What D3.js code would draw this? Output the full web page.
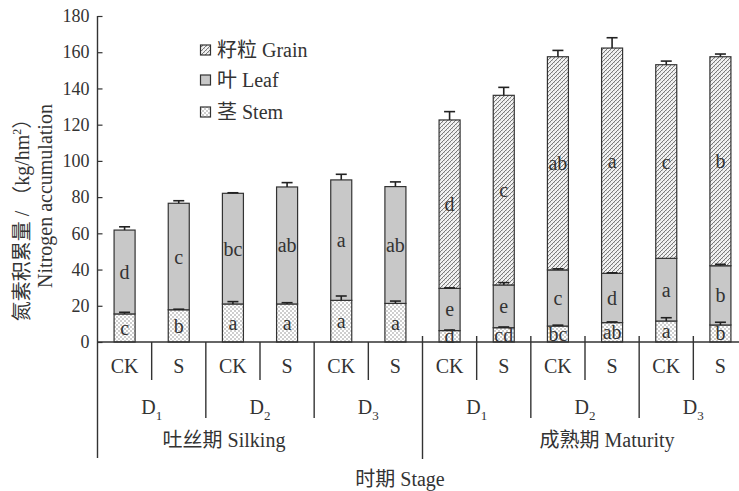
<!DOCTYPE html>
<html>
<head>
<meta charset="utf-8">
<script src="https://cdn.jsdelivr.net/npm/d3@7"></script>
<style>
  body { margin: 0; background: #fff; }
  text { font-family: "Liberation Serif", "Noto Sans CJK SC", serif; fill: #333; }
</style>
</head>
<body>
<div id="chart"></div>
<script>
// 分组：时期 / 密度 / 处理
const stages = ['吐丝期 Silking', '成熟期 Maturity'];
const levels = ['1', '2', '3'];
const treatments = ['CK', 'S'];

// 各器官氮素积累量 (kg/hm²)，顺序：Silking D1 CK,S D2 CK,S D3 CK,S, Maturity ...
const stem  = [15.5, 17.8, 21.0, 21.0, 23.0, 21.3, 6.3, 7.9, 8.8, 10.7, 11.6, 9.4];
const leaf  = [46.3, 58.8, 61.1, 64.6, 66.5, 64.5, 23.3, 23.6, 31.0, 27.2, 34.6, 32.7];
const grain = [0, 0, 0, 0, 0, 0, 93.0, 104.7, 117.7, 124.4, 106.9, 115.4];

const stemErr  = [0.9, 0.3, 1.3, 0.7, 2.4, 1.3, 0.3, 0.4, 0.5, 0.4, 1.8, 1.5];
const leafErr  = [1.8, 1.4, 0.3, 2.4, 3.1, 2.6, 0.3, 1.3, 0.6, 0.3, 0, 0.8];
const grainErr = [0, 0, 0, 0, 0, 0, 4.6, 4.4, 3.5, 5.7, 2.0, 1.5];

const stemSig  = ['c', 'b', 'a', 'a', 'a', 'a', 'd', 'cd', 'bc', 'ab', 'a', 'b'];
const leafSig  = ['d', 'c', 'bc', 'ab', 'a', 'ab', 'e', 'e', 'c', 'd', 'a', 'b'];
const grainSig = ['', '', '', '', '', '', 'd', 'c', 'ab', 'a', 'c', 'b'];

const yTicks = d3.range(0, 181, 20);

const width = 739, height = 491;
const xStart = 97.5, xEnd = 747.5, yTop = 16, yBase = 342;

const cats = [];
stages.forEach((s, si) => levels.forEach((l, li) => treatments.forEach(t => {
  cats.push({ stage: si, level: li, trt: t });
})));

const table = cats.map((c, i) => ({ i, stem: stem[i], leaf: leaf[i], grain: grain[i] }));
const keys = ['stem', 'leaf', 'grain'];
const errs = { stem: stemErr, leaf: leafErr, grain: grainErr };
const sigs = { stem: stemSig, leaf: leafSig, grain: grainSig };

const x = d3.scaleBand()
  .domain(d3.range(cats.length))
  .range([xStart, xEnd])
  .paddingInner(0.612)
  .paddingOuter(0.306);

const y = d3.scaleLinear().domain([0, 180]).range([yBase, yTop]);

const svg = d3.select('#chart').append('svg')
  .attr('width', width)
  .attr('height', height);

// 填充图案
const defs = svg.append('defs');
const pStem = defs.append('pattern').attr('id', 'p-stem')
  .attr('patternUnits', 'userSpaceOnUse').attr('width', 4).attr('height', 4);
pStem.append('rect').attr('width', 4).attr('height', 4).attr('fill', '#fff');
pStem.append('circle').attr('cx', 1).attr('cy', 1).attr('r', 0.7).attr('fill', '#777');
pStem.append('circle').attr('cx', 3).attr('cy', 3).attr('r', 0.7).attr('fill', '#777');

const pGrain = defs.append('pattern').attr('id', 'p-grain')
  .attr('patternUnits', 'userSpaceOnUse').attr('width', 4).attr('height', 4);
pGrain.append('rect').attr('width', 4).attr('height', 4).attr('fill', '#f2f2f2');
pGrain.append('path').attr('d', 'M0,4L4,0M-1,1L1,-1M3,5L5,3')
  .attr('stroke', '#666').attr('stroke-width', 0.85);
pGrain.append('path').attr('d', 'M0,0L1,1M2,2L3,3')
  .attr('stroke', '#aaa').attr('stroke-width', 0.5);

const fills = { stem: 'url(#p-stem)', leaf: '#c8c8c8', grain: 'url(#p-grain)' };

const series = d3.stack().keys(keys)(table);

// 柱子
const bars = svg.append('g');
series.forEach(s => {
  bars.append('g').selectAll('rect')
    .data(s.filter(d => d[1] > d[0]))
    .enter().append('rect')
    .attr('x', d => x(d.data.i))
    .attr('width', x.bandwidth())
    .attr('y', d => y(d[1]))
    .attr('height', d => y(d[0]) - y(d[1]))
    .attr('fill', fills[s.key])
    .attr('stroke', '#333')
    .attr('stroke-width', 1.2);
});

// 误差线
const eb = svg.append('g').attr('stroke', '#222').attr('stroke-width', 1.6);
series.forEach(s => {
  s.forEach(d => {
    const e = errs[s.key][d.data.i];
    if (!(d[1] > d[0]) || !e) return;
    const cx = x(d.data.i) + x.bandwidth() / 2;
    eb.append('line').attr('x1', cx).attr('x2', cx)
      .attr('y1', y(d[1])).attr('y2', y(d[1] + e));
    eb.append('line').attr('x1', cx - 5.5).attr('x2', cx + 5.5)
      .attr('y1', y(d[1] + e)).attr('y2', y(d[1] + e));
  });
});

// 显著性字母
const sg = svg.append('g').attr('text-anchor', 'middle').style('font-size', '20px');
series.forEach(s => {
  s.forEach(d => {
    const t = sigs[s.key][d.data.i];
    if (!t) return;
    sg.append('text')
      .attr('x', x(d.data.i) + x.bandwidth() / 2)
      .attr('y', y((d[0] + d[1]) / 2))
      .attr('dy', '0.35em')
      .attr('fill', '#444')
      .text(t);
  });
});

// y 轴
const yAxis = svg.append('g')
  .attr('transform', `translate(${xStart},0)`)
  .call(d3.axisLeft(y).tickValues(yTicks).tickSizeInner(-5).tickSizeOuter(0).tickPadding(8));
yAxis.select('.domain').remove();
yAxis.selectAll('line').attr('stroke', '#333').attr('stroke-width', 1.2);
yAxis.selectAll('text').style('font-size', '18px').attr('fill', '#333')
  .style('font-family', '"Liberation Serif", serif');

const lines = svg.append('g').attr('stroke', '#333').attr('stroke-width', 1.4);
lines.append('line').attr('x1', xStart).attr('x2', xStart).attr('y1', y(180)).attr('y2', 458);
lines.append('line').attr('x1', xStart).attr('x2', width).attr('y1', yBase).attr('y2', yBase);

// 分组分隔线
const step = x.step();
const edge = i => x(i) - step * x.paddingInner() / 2;
for (let i = 1; i < cats.length; i++) {
  const top = cats[i].stage === 1 ? yBase - 6 : yBase;
  let bottom = 380;
  if (cats[i].stage !== cats[i - 1].stage) bottom = 459;
  else if (cats[i].level !== cats[i - 1].level) bottom = 418;
  lines.append('line').attr('x1', edge(i)).attr('x2', edge(i)).attr('y1', top).attr('y2', bottom);
}

// x 轴文字
const xl = svg.append('g').attr('text-anchor', 'middle').style('font-size', '20px');
cats.forEach((c, i) => {
  xl.append('text')
    .attr('x', x(i) + x.bandwidth() / 2)
    .attr('y', 373)
    .text(c.trt);
});
cats.forEach((c, i) => {
  if (c.trt !== 'CK') return;
  const t = xl.append('text').attr('x', edge(i + 1)).attr('y', 413.5);
  t.append('tspan').text('D');
  t.append('tspan').attr('dy', 6).style('font-size', '13px').text(levels[c.level]);
});
xl.append('text').attr('x', 224).attr('y', 447).text(stages[0]);
xl.append('text').attr('x', 607).attr('y', 447).text(stages[1]);
xl.append('text').attr('x', 400).attr('y', 486).text('时期 Stage');

// y 轴标题
const yt = svg.append('g').attr('text-anchor', 'middle').style('font-size', '20px');
const t1 = yt.append('text').attr('transform', 'translate(29,215) rotate(-90)');
t1.append('tspan').text('氮素积累量 / （kg/hm');
t1.append('tspan').attr('dy', -8).style('font-size', '12px').text('2');
t1.append('tspan').attr('dy', 8).text('）');
yt.append('text').attr('transform', 'translate(52,196) rotate(-90)').text('Nitrogen accumulation');

// 图例
const legendItems = [
  { key: 'grain', label: '籽粒 Grain' },
  { key: 'leaf', label: '叶 Leaf' },
  { key: 'stem', label: '茎 Stem' }
];
const ly = [50, 80, 112];
const lg = svg.append('g');
legendItems.forEach((d, k) => {
  lg.append('rect')
    .attr('x', 200.5).attr('y', ly[k] - 5)
    .attr('width', 10).attr('height', 10)
    .attr('fill', fills[d.key])
    .attr('stroke', '#333').attr('stroke-width', 1.2);
  lg.append('text')
    .attr('x', 217).attr('y', ly[k])
    .attr('dy', '0.35em')
    .style('font-size', '20px')
    .text(d.label);
});
</script>
</body>
</html>
